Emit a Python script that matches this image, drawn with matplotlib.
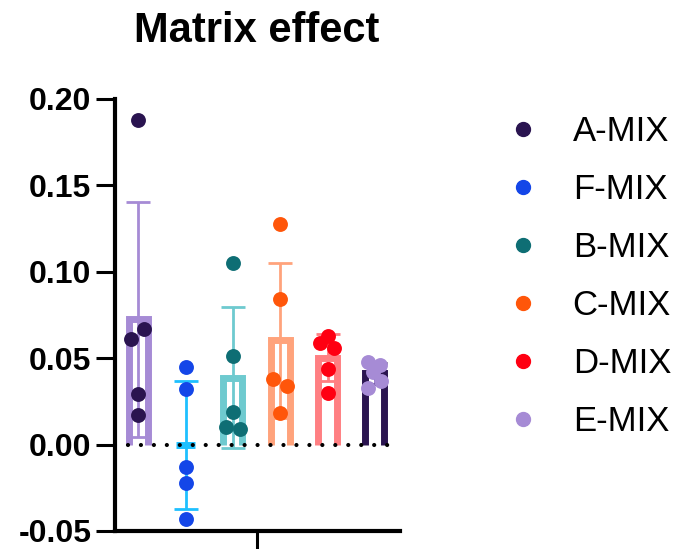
import numpy as np
import matplotlib
matplotlib.use("Agg")
import matplotlib.pyplot as plt
from matplotlib.lines import Line2D

plt.rcParams['font.family'] = ['Liberation Sans', 'DejaVu Sans']

categories = ["A-MIX", "F-MIX", "B-MIX", "C-MIX", "D-MIX", "E-MIX"]
a_mix = [0.188, 0.061, 0.067, 0.029, 0.017]
f_mix = [0.045, 0.032, -0.013, -0.022, -0.043]
b_mix = [0.105, 0.051, 0.019, 0.010, 0.009]
c_mix = [0.1275, 0.084, 0.038, 0.034, 0.018]
d_mix = [0.063, 0.059, 0.056, 0.044, 0.030]
e_mix = [0.048, 0.046, 0.042, 0.037, 0.033]
series = [a_mix, f_mix, b_mix, c_mix, d_mix, e_mix]

# horizontal jitter of points (category units)
jitter = [
    [0, -0.15, 0.13, 0, 0],
    [0, 0, 0, 0, 0],
    [0, 0, 0, -0.14, 0.14],
    [0, 0, -0.15, 0.14, 0],
    [0, -0.15, 0.14, 0, 0],
    [-0.14, 0.11, -0.04, 0.13, -0.14],
]

point_colors = ["#2a1450", "#1446e8", "#0e6e74", "#ff560a", "#ff0012", "#a68bd5"]
bar_colors = ["#a68bd5", "#1ec0ff", "#6ecacf", "#ffa37c", "#ff7f82", "#2a1450"]

y_ticks = [-0.05, 0.00, 0.05, 0.10, 0.15, 0.20]

fig = plt.figure(figsize=(6.78, 5.49), dpi=100)
ax = fig.add_axes([115/678, 1-531/549, (400-115)/678, (531-99)/549])

half = 0.20
for i, vals in enumerate(series):
    m = np.mean(vals)
    sd = np.std(vals, ddof=1)
    ax.fill_between([i-half, i+half], 0, m, color="white", zorder=1, lw=0)
    ax.plot([i-half, i-half, i+half, i+half], [0, m, m, 0], color=bar_colors[i],
            lw=5, solid_joinstyle="miter", solid_capstyle="butt", zorder=2)
    ax.errorbar(i, m, yerr=sd, color=bar_colors[i], lw=2, capsize=8.5,
                capthick=2, zorder=3, fmt="none")
    ax.scatter(np.array(jitter[i]) + i, vals, s=115, color=point_colors[i],
               zorder=5, linewidths=0)

ax.axhline(0, color="black", lw=3, linestyle=(0, (0.01, 3.1)),
           dash_capstyle="round", zorder=4)

ax.set_xlim(-0.49, 5.53)
ax.set_ylim(-0.05, 0.20)
ax.set_yticks(y_ticks)
ax.set_yticklabels([f"{v:.2f}" for v in y_ticks])
ax.set_xticks([2.5])
ax.set_xticklabels([""])
for s in ["top", "right"]:
    ax.spines[s].set_visible(False)
for s in ["left", "bottom"]:
    ax.spines[s].set_linewidth(3)
ax.tick_params(axis="both", width=2.2, length=14, labelsize=23, pad=3)
for lab in ax.get_yticklabels():
    lab.set_fontweight("bold")

fig.text(257/678, 1-31/549, "Matrix effect", ha="center", va="center",
         fontsize=30, fontweight="bold")

handles = [Line2D([], [], marker="o", ls="none", color=c, markersize=10)
           for c in point_colors]
ax.legend(handles, categories, loc="upper left", bbox_to_anchor=(488/678, 1-98/549),
          bbox_transform=fig.transFigure, frameon=False, fontsize=25,
          handletextpad=0.94, labelspacing=0.72, handlelength=1.0, borderpad=0)

fig.savefig("out.png", dpi=100)
